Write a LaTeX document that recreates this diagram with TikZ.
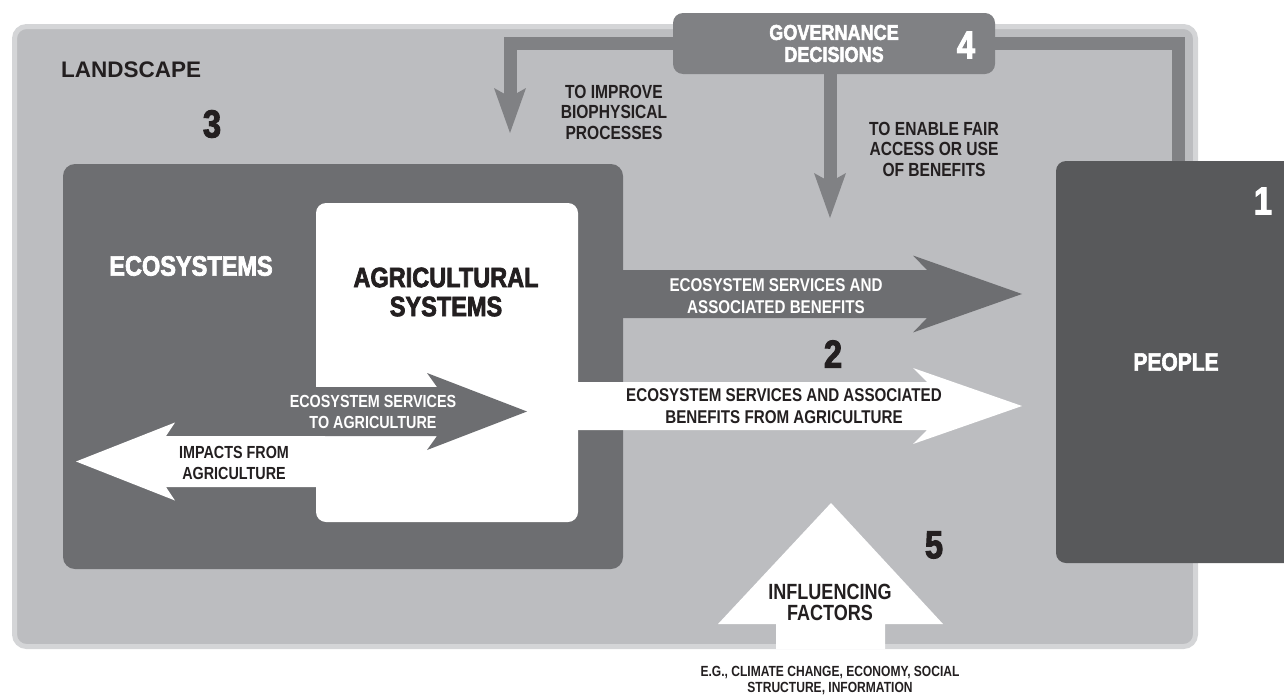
\documentclass[tikz,border=0pt]{standalone}
\usepackage{fontspec}
\setmainfont{Liberation Sans}
\newfontfamily\condfont[FakeStretch=0.82]{Liberation Sans}
\newfontfamily\heavyfont[FakeStretch=0.84,FakeBold=2.5]{Liberation Sans}
\usetikzlibrary{arrows.meta}

\definecolor{landfill}{RGB}{188,189,192}
\definecolor{landedge}{RGB}{212,213,215}
\definecolor{govgray}{RGB}{128,129,132}
\definecolor{ecogray}{RGB}{109,110,113}
\definecolor{peoplegray}{RGB}{88,89,91}
\definecolor{ink}{RGB}{35,31,32}

% horizontal block arrow with swept-back barbs
% #1 fill, #2 tail x, #3 tip x, #4 axis y, #5 half shaft, #6 half head,
% #7 head length, #8 barb sweep, #9 direction (1 = right, -1 = left)
\newcommand{\blockarrow}[9]{%
  \fill[#1] (#2,#4-#5) -- ({#3-#9*(#7-#8)},#4-#5) -- ({#3-#9*#7},#4-#6)
    -- (#3,#4) -- ({#3-#9*#7},#4+#6) -- ({#3-#9*(#7-#8)},#4+#5)
    -- (#2,#4+#5) -- cycle;}

\tikzset{
  panel/.style={inner sep=0pt, outer sep=0pt, rounded corners=#1},
  govline/.style={draw=govgray, line width=13pt, line join=miter},
  govtip/.style={-{Stealth[length=45pt,width=32pt,inset=9pt,line width=0pt]}},
  lbl/.style={align=center, inner sep=0pt, text=ink,
    font=\condfont\bfseries\fontsize{19}{20.5}\selectfont},
  smalllbl/.style={align=center, inner sep=0pt, text=ink,
    font=\condfont\bfseries\fontsize{17.5}{21}\selectfont},
  title/.style={align=center, inner sep=0pt,
    font=\heavyfont\bfseries\fontsize{28}{29}\selectfont},
  numeral/.style={inner sep=0pt, font=\heavyfont\bfseries\fontsize{39}{39}\selectfont},
}

\begin{document}
\begin{tikzpicture}[x=1pt,y=-1pt]
\useasboundingbox (0,0) rectangle (1284,696);

% landscape frame
\node[panel=12pt, draw=landedge, line width=5pt, fill=landfill,
      minimum width=1181pt, minimum height=620pt] (land) at (605,336.5) {};
\node[anchor=west, inner sep=0pt, text=ink,
      font=\bfseries\fontsize{22.5}{24}\selectfont] (landlbl) at (61,70) {LANDSCAPE};
\node[numeral, text=ink] (n3) at (212,124) {3};

% governance decisions and its three links
\node[panel=10pt, fill=govgray, minimum width=322pt, minimum height=61pt,
      text=white, align=center,
      font=\heavyfont\bfseries\fontsize{21.5}{22}\selectfont] (gov) at (834,43.5)
      {GOVERNANCE\\DECISIONS};
\node[numeral, text=white] (n4) at (966,45) {4};
\coordinate (bioTip) at (510,133);
\coordinate (accTip) at (830,218);
\coordinate (pplIn) at (1178,175);
\draw[govline, govtip] (gov.west) -| (bioTip);
\draw[govline, govtip] (gov.south -| accTip) -- (accTip);
\draw[govline] (gov.east) -| (pplIn);

\node[lbl] (bio) at (614,112) {TO IMPROVE\\BIOPHYSICAL\\PROCESSES};
\node[lbl] (acc) at (934,149) {TO ENABLE FAIR\\ACCESS OR USE\\OF BENEFITS};

% ecosystems with the agricultural systems inside
\node[panel=12pt, fill=ecogray, minimum width=560pt, minimum height=405pt] (eco) at (343,366.5) {};
\blockarrow{ecogray}{610}{1022}{294}{24}{38.5}{109}{14}{1}
\node[panel=10pt, fill=white, minimum width=262pt, minimum height=319pt] (agri) at (447,362.5) {};
\blockarrow{white}{570}{1022}{406}{24}{38}{109}{14}{1}
\blockarrow{ecogray}{300}{527}{411.5}{24.5}{38.5}{100}{10}{1}
\blockarrow{white}{325}{76}{461.5}{25.5}{39}{99}{9}{-1}

\node[title, text=white] (ecolbl) at (191,266) {ECOSYSTEMS};
\node[title, text=ink] (agrilbl) at (446,292) {AGRICULTURAL\\SYSTEMS};

\node[lbl, text=white, font=\condfont\bfseries\fontsize{18.5}{22}\selectfont] (esab) at (776,296)
  {ECOSYSTEM SERVICES AND\\ASSOCIATED BENEFITS};
\node[numeral, text=ink] (n2) at (833,354) {2};
\node[lbl, font=\condfont\bfseries\fontsize{18.5}{22}\selectfont] (esag) at (784,406)
  {ECOSYSTEM SERVICES AND ASSOCIATED\\BENEFITS FROM AGRICULTURE};
\node[smalllbl, text=white] (esto) at (373,412) {ECOSYSTEM SERVICES\\TO AGRICULTURE};
\node[smalllbl] (impacts) at (234,463) {IMPACTS FROM\\AGRICULTURE};

% people
\node[panel=10pt, fill=peoplegray, minimum width=240pt, minimum height=402pt,
      text=white, font=\heavyfont\bfseries\fontsize{25}{25}\selectfont] (people) at (1176,362) {PEOPLE};
\node[numeral, text=white] (n1) at (1263,201) {1};

% influencing factors
\fill[white] (776,649) -- (776,624) -- (718,624) -- (831,503) -- (943,624)
  -- (885,624) -- (885,649) -- cycle;
\node[lbl, font=\condfont\bfseries\fontsize{22}{21}\selectfont] (infl) at (830,602) {INFLUENCING\\FACTORS};
\node[numeral, text=ink] (n5) at (934,545) {5};
\node[lbl, font=\condfont\bfseries\fontsize{14.7}{16}\selectfont] (eg) at (830,680)
  {E.G., CLIMATE CHANGE, ECONOMY, SOCIAL\\STRUCTURE, INFORMATION};
\end{tikzpicture}
\end{document}
